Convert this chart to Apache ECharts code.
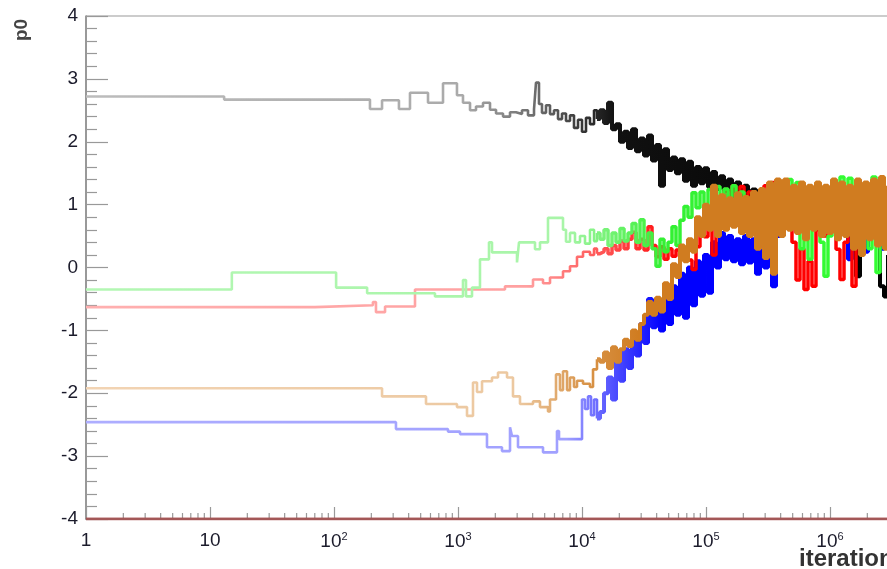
<!DOCTYPE html>
<html><head><meta charset="utf-8">
<script src="https://cdn.jsdelivr.net/npm/echarts@6/dist/echarts.min.js"></script>
<style>html,body{margin:0;padding:0;background:#fff}#c{width:887px;height:569px}</style>
</head><body><div id="c"></div>
<script>
// ---- axis definitions ----
const yTickValues = [-4,-3,-2,-1,0,1,2,3,4];
const xDecades = [1,10,100,1000,10000,100000,1000000];
const yTitle = 'p0';
const xTitle = 'iteration';

// ---- early (sparse) parts of each chain: iteration, value ----
const blackIter = [1,13,195,244,334,410,573,757,981,1097,1250,1397,1591,1812,2026,2307,2627,2936,3282,3668,4102,4256,4500,4757,5124,5520,5946,6405,6898,7430,8002,8619,9285,10000,10770,11600,12500,13210];
const blackVals = [2.72,2.67,2.52,2.66,2.52,2.78,2.62,2.93,2.74,2.62,2.5,2.56,2.62,2.51,2.45,2.4,2.47,2.44,2.5,2.42,2.52,2.94,2.6,2.46,2.58,2.44,2.5,2.36,2.45,2.33,2.42,2.22,2.35,2.16,2.38,2.28,2.5,2.36];

const greenIter = [1,15,104,185,652,1097,1160,1297,1504,1778,1880,2991,3104,4178,4583,5318,7028,7430,8002,8781,9636,10570,11600,12500,13210];
const greenVals = [-0.35,-0.08,-0.32,-0.41,-0.46,-0.2,-0.46,-0.32,0.13,0.4,0.24,0.08,0.4,0.29,0.4,0.79,0.6,0.41,0.55,0.4,0.5,0.38,0.6,0.42,0.55];

const redIter = [1,70,206,218,258,450,2393,4025,4848,5520,7028,8002,9112,10190,11600,12500,13210];
const redVals = [-0.63,-0.6,-0.55,-0.71,-0.62,-0.35,-0.3,-0.19,-0.25,-0.16,-0.06,0.02,0.17,0.25,0.2,0.3,0.22];

const blueIter = [1,316,830,1038,1713,2263,2627,2726,3047,4848,6285,6525,10000,10570,11180,11820,12500,13210];
const blueVals = [-2.46,-2.57,-2.61,-2.65,-2.86,-2.92,-2.54,-2.68,-2.86,-2.94,-2.6,-2.73,-2.1,-2.25,-2.05,-2.35,-2.1,-2.4];

const orangeIter = [1,244,552,981,1182,1321,1423,1562,1880,2102,2485,2776,3162,4025,4583,5318,5520,6171,6642,7028,7570,8002,8619,9112,10190,11600,12270,13210];
const orangeVals = [-1.92,-2.05,-2.17,-2.22,-2.36,-1.83,-1.98,-1.81,-1.75,-1.67,-1.75,-2.05,-2.17,-2.13,-2.22,-2.29,-2.1,-1.7,-1.95,-1.65,-1.95,-1.75,-1.9,-1.8,-1.85,-1.9,-1.62,-1.46];

// ---- dense (well-mixed) region, shared iterations ----
const denseIter = [13970,15050,16210,17460,18800,20250,21820,23500,25310,27260,29360,31620,34060,36680,39510,42560,45840,49370,53180,57280,61690,66450,71570,77090,83040,89440,96340,103800,111800,120400,129700,139700,150500,162100,174600,188000,202600,218200,235000,253100,272600,293600,316200,340600,366800,395100,425600,458400,493700,531800,572800,616900,664500,715700,770900,830300,894400,963400,1038000,1118000,1204000,1297000,1397000,1505000,1621000,1746000,1880000,2026000,2182000,2350000,2531000,2726000,2936000];
const blackDense = [2.5,2.3,2.62,2.2,2.28,2.0,2.16,1.9,2.2,1.85,2.05,1.78,2.1,1.7,1.95,1.3,1.88,1.55,1.75,1.5,1.72,1.38,1.68,1.3,1.6,1.34,1.58,1.28,1.52,1.25,1.45,1.22,1.4,1.12,1.35,1.1,1.3,1.02,1.24,0.95,1.18,0.9,1.1,0.85,1.05,0.8,1.1,0.8,1.05,0.75,1.1,0.8,1.05,0.75,1.1,0.8,1.0,0.7,1.05,0.75,1.1,0.7,1.0,0.6,-0.14,0.8,1.0,0.6,0.95,0.5,-0.3,-0.46,0.2];
const orangeDense = [-1.5,-1.35,-1.6,-1.27,-1.5,-1.3,-1.15,-1.25,-1.0,-1.15,-0.9,-0.75,-0.55,-0.75,-0.48,-0.7,-0.25,-0.5,0.05,-0.15,0.35,0.1,0.45,0.25,0.8,0.5,1.0,0.6,1.3,0.5,1.15,0.6,1.1,0.65,1.18,0.55,1.12,0.5,1.2,0.3,1.25,0.15,1.35,-0.1,1.4,0.5,1.4,0.6,1.3,0.55,1.35,0.45,1.3,0.6,1.35,0.5,1.3,0.55,1.4,0.45,1.35,0.5,1.3,0.3,1.4,0.2,1.35,0.45,1.4,0.35,1.44,0.3,1.3];
const greenDense = [0.45,0.6,0.35,0.55,0.4,0.62,0.42,0.55,0.7,0.4,0.76,0.35,0.55,0.3,0.02,0.45,0.25,0.4,0.65,0.35,0.75,0.97,0.8,1.19,0.95,1.2,0.9,1.24,0.95,1.29,0.9,1.25,1.0,1.3,1.05,1.2,0.9,1.1,0.85,1.15,0.8,1.2,0.2,1.24,0.6,1.3,0.9,1.4,1.0,1.35,0.3,0.76,0.13,0.9,1.2,0.4,-0.14,0.5,1.1,0.8,1.44,1.0,1.42,0.9,1.3,0.6,1.1,0.3,1.44,-0.08,1.4,0.5,1.2];
const redDense = [0.25,0.3,0.22,0.35,0.28,0.42,0.3,0.45,0.56,0.3,0.45,0.28,0.65,0.35,0.17,0.33,0.13,0.3,0.18,0.28,0.15,0.25,0.12,-0.03,0.33,0.75,0.49,0.87,0.2,0.8,1.1,1.24,1.05,1.3,1.0,1.29,1.05,1.2,0.9,1.1,0.85,1.3,0.9,1.35,0.95,1.2,0.7,1.0,0.4,-0.2,0.3,-0.35,0.1,-0.3,0.6,0.9,0.5,1.0,0.7,0.29,-0.19,0.4,0.8,-0.3,0.6,1.0,0.7,1.1,0.8,1.0,0.7,1.05,0.75];
const blueDense = [-2.3,-2.0,-1.75,-2.1,-1.5,-1.8,-1.3,-1.6,-1.15,-1.4,-0.9,-1.2,-0.5,-0.95,-0.6,-1.0,-0.35,-0.9,-0.3,-0.75,-0.1,-0.8,0.0,-0.6,0.1,-0.45,0.2,-0.4,0.4,0.0,0.55,0.13,0.5,0.1,0.45,0.05,0.5,0.08,0.45,-0.1,0.4,0.0,0.44,-0.3,0.5,0.6,0.9,0.7,1.0,0.6,0.9,0.65,1.0,0.7,0.9,0.6,1.0,0.7,0.9,0.6,0.9,0.55,0.13,0.7,0.9,0.6,0.25,0.8,0.9,0.6,0.3,0.8,0.9];

// ---- flat bottom trace ----
const bottomIter = [1, 3000000];
const bottomVals = [-4, -4];

function early(iters, vals) { return iters.map((x, i) => [x, vals[i]]); }
function dense(iters, vals, d) {
  const out = [[iters[iters.length - 1], vals[vals.length - 1]]];
  denseIter.forEach((x, i) => out.push([x, d[i]]));
  return out;
}
function grad(stops) {
  return { type: 'linear', x: 86, y: 0, x2: 887, y2: 0, global: true,
    colorStops: stops.map(s => ({ offset: s[0], color: s[1] })) };
}
const minorX = [];
xDecades.forEach(d => { for (let k = 2; k <= 9; k++) minorX.push([d * k, -4]); });

const chart = echarts.init(document.getElementById('c'), null, { renderer: 'canvas' });
const FONT = 'Liberation Sans, Arial, Helvetica, sans-serif';
function lineSeries(name, data, stops, w) {
  return { type: 'line', name, data, step: 'end', symbol: 'none', silent: true,
    lineStyle: { width: w, color: grad(stops), join: 'bevel' }, emphasis: { disabled: true } };
}
const chains = [
  ['black', blackIter, blackVals, blackDense, [[0, '#bcbcbc'], [0.47, '#aaaaaa'], [0.57, '#666'], [0.66, '#111'], [1, '#000']], 4],
  ['blue', blueIter, blueVals, blueDense, [[0, '#aeaeff'], [0.6, '#a0a0ff'], [0.67, '#4040ff'], [0.72, '#0000ff'], [1, '#0000ff']], 4],
  ['red', redIter, redVals, redDense, [[0, '#ffb0b0'], [0.55, '#ffa0a0'], [0.67, '#ff4040'], [0.74, '#ff0000'], [1, '#ff0000']], 3.5],
  ['green', greenIter, greenVals, greenDense, [[0, '#b4f7b4'], [0.6, '#a8f5a8'], [0.72, '#33f033'], [1, '#33ff33']], 3.5],
  ['orange', orangeIter, orangeVals, orangeDense, [[0, '#f2d4b4'], [0.54, '#ecc8a0'], [0.62, '#d9964d'], [0.69, '#d07c20'], [1, '#d07c20']], 4]
];
const series = [];
chains.forEach(c => {
  series.push(lineSeries(c[0] + '-early', early(c[1], c[2]), c[4], 2.6));
  series.push(lineSeries(c[0] + '-dense', dense(c[1], c[2], c[3]), c[4], c[5]));
});
series.push({ type: 'line', name: 'bottom', data: early(bottomIter, bottomVals), symbol: 'none', silent: true,
  lineStyle: { width: 3, color: 'rgba(165,70,70,0.8)' } });
series.push({ type: 'custom', name: 'minorTicksX', data: minorX, silent: true, clip: false,
  encode: { x: 0, y: 1 },
  renderItem: (params, api) => {
    const p = api.coord([api.value(0), api.value(1)]);
    return { type: 'line', shape: { x1: p[0], y1: p[1], x2: p[0], y2: p[1] - 6 },
      style: { stroke: '#999', lineWidth: 1.2 } };
  } });

chart.setOption({
  animation: false,
  backgroundColor: '#fff',
  grid: { left: 86, top: 16, right: -67, bottom: 50, show: true, borderColor: '#999', borderWidth: 1,
    containLabel: false, outerBoundsMode: 'none' },
  xAxis: {
    type: 'log', logBase: 10, min: 1, max: 10000000, splitNumber: 7,
    axisLine: { show: true, onZero: false, lineStyle: { color: '#888', width: 1.5 } },
    axisTick: { show: true, inside: true, length: 12, lineStyle: { color: '#999', width: 1.2 } },
    splitLine: { show: false },
    axisLabel: {
      margin: 12, fontSize: 19, color: '#1b1b2b', fontFamily: FONT,
      formatter: v => {
        const e = Math.round(Math.log10(v));
        if (e === 0) return '1';
        if (e === 1) return '10';
        return '10{sup|' + e + '}';
      },
      rich: { sup: { fontSize: 11, fontFamily: FONT, color: '#1b1b2b', padding: [0, 0, 10, 0] } }
    }
  },
  yAxis: {
    type: 'value', min: -4, max: 4, interval: 1,
    axisLine: { show: true, onZero: false, lineStyle: { color: '#888', width: 1.5 } },
    axisTick: { show: true, inside: true, length: 22, lineStyle: { color: '#999', width: 1.2 } },
    minorTick: { show: true, splitNumber: 5, length: 11, lineStyle: { color: '#999', width: 1.2 } },
    splitLine: { show: false },
    axisLabel: { margin: 8, fontSize: 19, color: '#1b1b2b', fontFamily: FONT }
  },
  graphic: [
    { type: 'text', x: 22, y: 30, rotation: Math.PI / 2,
      style: { text: yTitle, fontSize: 19, fontWeight: 'bold', fontFamily: FONT, fill: '#444', align: 'center', verticalAlign: 'middle' } },
    { type: 'text', x: 799, y: 547,
      style: { text: xTitle, fontSize: 24, fontWeight: 'bold', fontFamily: FONT, fill: '#333', align: 'left', verticalAlign: 'top' } }
  ],
  series: series
});
</script>
</body></html>
